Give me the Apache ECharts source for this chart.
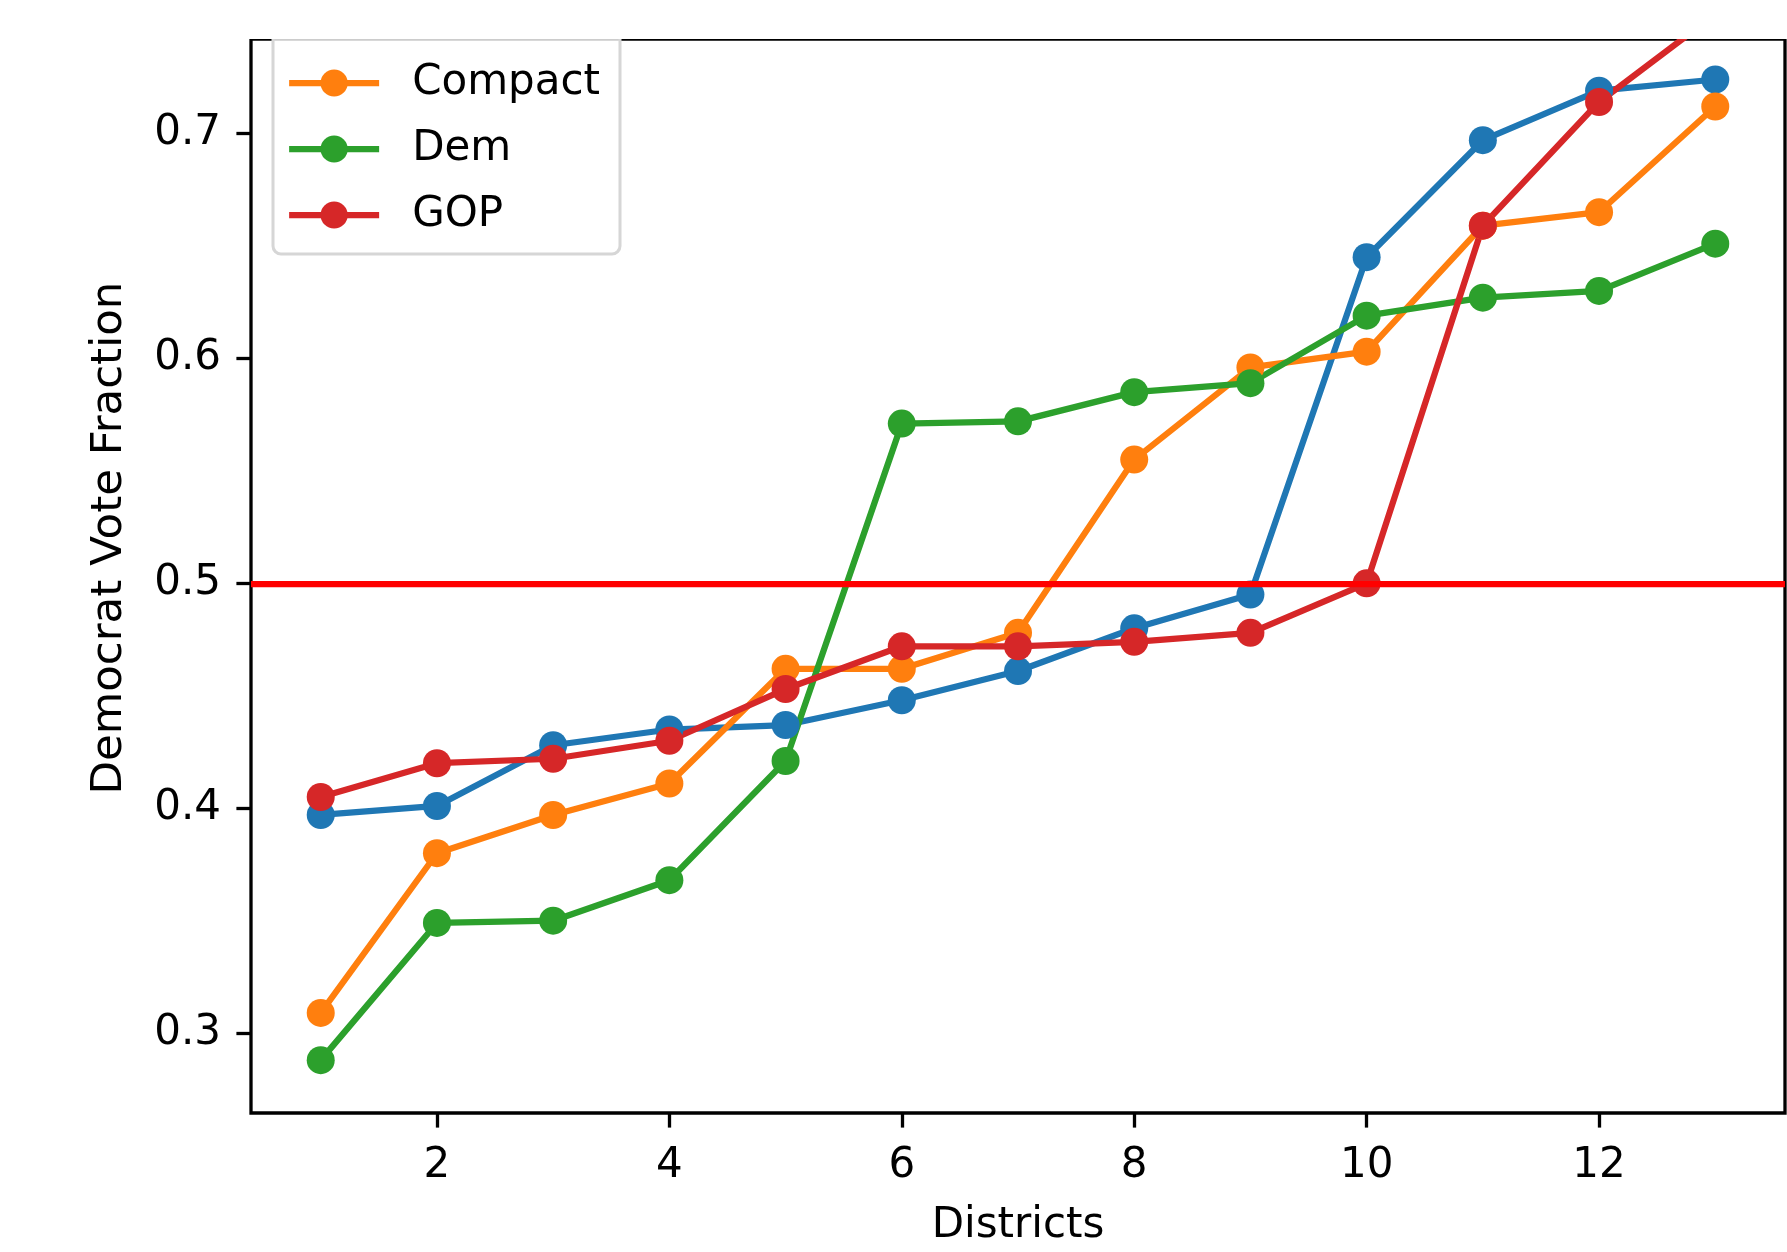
<!DOCTYPE html>
<html>
<head>
<meta charset="utf-8">
<script src="https://cdn.jsdelivr.net/npm/echarts@6/dist/echarts.min.js"></script>
<style>
html,body{margin:0;padding:0;background:#fff;}
#chart{width:1787px;height:1252px;}
</style>
</head>
<body>
<div id="chart"></div>
<script>
// ---- data ----
const districts = [1,2,3,4,5,6,7,8,9,10,11,12,13];
const initialVals = [0.397,0.401,0.428,0.435,0.437,0.448,0.461,0.480,0.495,0.645,0.697,0.719,0.724];
const compactVals = [0.309,0.380,0.397,0.411,0.462,0.462,0.478,0.555,0.596,0.603,0.659,0.665,0.712];
const demVals     = [0.288,0.349,0.350,0.368,0.421,0.571,0.572,0.585,0.589,0.619,0.627,0.630,0.651];
const gopVals     = [0.405,0.420,0.422,0.430,0.453,0.472,0.472,0.474,0.478,0.500,0.659,0.714,0.753];
const xTicks = [2,4,6,8,10,12];
const yTicks = [0.3,0.4,0.5,0.6,0.7];
const threshold = 0.5;

const FONT = 'DejaVu Sans';
const FS = 42;

function pairs(vals){ return districts.map((d,i)=>[d, vals[i]]); }

function lineSeries(name, color, vals){
  return {
    name: name, type: 'line', data: pairs(vals),
    symbol: 'circle', symbolSize: 28,
    itemStyle: {color: color},
    lineStyle: {color: color, width: 6.25},
    emphasis: {disabled: true},
    animation: false,
    clip: true
  };
}

const chart = echarts.init(document.getElementById('chart'), null, {renderer: 'canvas'});
chart.setOption({
  animation: false,
  backgroundColor: '#ffffff',
  grid: {
    left: 251, right: 2, top: 39, bottom: 133,
    show: true, borderColor: '#000', borderWidth: 3.3, backgroundColor: 'transparent'
  },
  xAxis: {
    type: 'value', min: 0.4, max: 13.6,
    name: 'Districts', nameLocation: 'middle', nameGap: 92,
    nameTextStyle: {fontFamily: FONT, fontSize: FS, color: '#000'},
    axisLine: {show: false},
    splitLine: {show: false},
    axisTick: {show: true, inside: false, length: 14.6, lineStyle: {color: '#000', width: 3.3}, customValues: xTicks},
    axisLabel: {fontFamily: FONT, fontSize: FS, color: '#000', margin: 32, customValues: xTicks, formatter: v => String(v)}
  },
  yAxis: {
    type: 'value', min: 0.2645, max: 0.742,
    axisLine: {show: false},
    splitLine: {show: false},
    axisTick: {show: true, inside: false, length: 14.6, lineStyle: {color: '#000', width: 3.3}, customValues: yTicks},
    axisLabel: {fontFamily: FONT, fontSize: FS, color: '#000', margin: 30, customValues: yTicks, formatter: v => v.toFixed(1)}
  },
  legend: {
    data: ['Compact','Dem','GOP'],
    orient: 'vertical', left: 286, top: 61,
    itemWidth: 90, itemHeight: 34, itemGap: 22,
    padding: 0,
    lineStyle: {width: 6.25},
    textStyle: {fontFamily: FONT, fontSize: FS, color: '#000', lineHeight: 44, padding: [0,0,0,28]},
    selectedMode: false,
    z: 10
  },
  graphic: [
    {type: 'rect', z: 5, shape: {x: 273, y: 10, width: 347, height: 244, r: 8},
     style: {fill: 'rgba(255,255,255,0.8)', stroke: '#d6d6d6', lineWidth: 3}},
    {type: 'rect', z: 100, shape: {x: 0, y: 0, width: 1787, height: 39},
     style: {fill: '#ffffff'}},
    {type: 'text', z: 10, x: 110, y: 538, rotation: Math.PI / 2,
     style: {text: 'Democrat Vote Fraction', fontFamily: FONT, fontSize: 43.5, fill: '#000',
             align: 'center', verticalAlign: 'middle'}}
  ],
  series: [
    lineSeries('Initial', '#1f77b4', initialVals),
    lineSeries('Compact', '#ff7f0e', compactVals),
    lineSeries('Dem', '#2ca02c', demVals),
    lineSeries('GOP', '#d62728', gopVals),
    {
      name: 'threshold', type: 'line', data: [], silent: true,
      markLine: {
        silent: true, symbol: ['none','none'], animation: false,
        label: {show: false},
        lineStyle: {color: '#ff0000', width: 6.25, type: 'solid'},
        data: [{yAxis: threshold}]
      }
    }
  ]
});
</script>
</body>
</html>
